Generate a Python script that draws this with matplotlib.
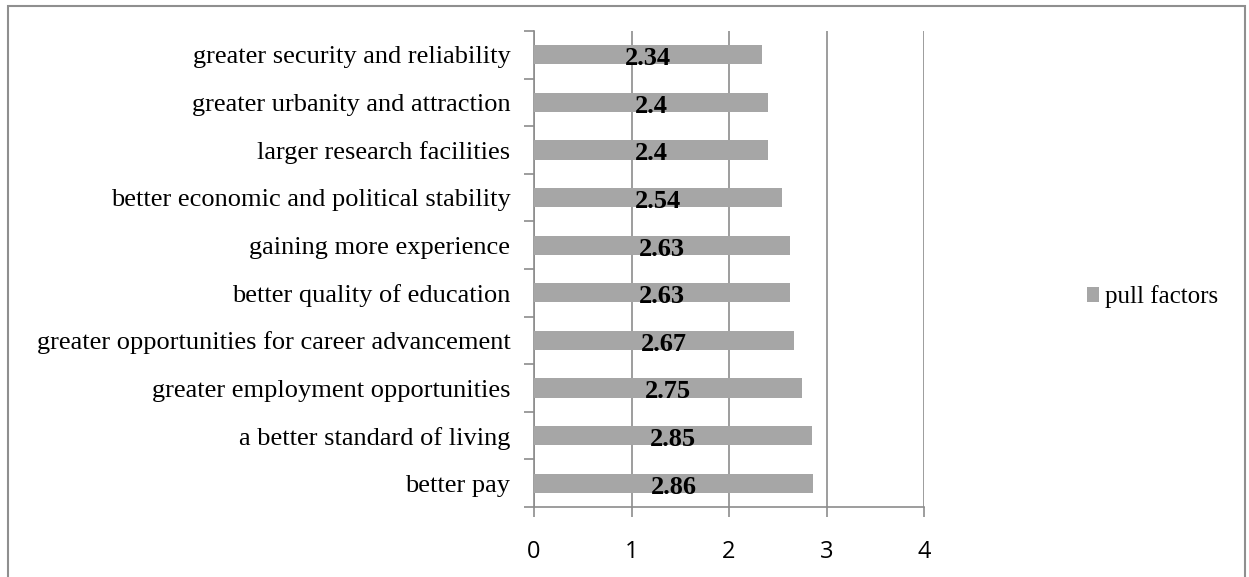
import matplotlib.pyplot as plt
from matplotlib.patches import Rectangle

factors = ['better pay', 'a better standard of living', 'greater employment opportunities',
           'greater opportunities for career advancement', 'better quality of education',
           'gaining more experience', 'better economic and political stability',
           'larger research facilities', 'greater urbanity and attraction',
           'greater security and reliability']
scores = [2.86, 2.85, 2.75, 2.67, 2.63, 2.63, 2.54, 2.4, 2.4, 2.34]
labels = ['2.86', '2.85', '2.75', '2.67', '2.63', '2.63', '2.54', '2.4', '2.4', '2.34']

W, H = 1249, 577
fig = plt.figure(figsize=(W / 100, H / 100), dpi=100)
ax = fig.add_axes([534 / W, 1 - 507 / H, 390 / W, 476 / H])

grey = '#8c8c8c'
pos = list(range(len(factors)))
ax.barh(pos, scores, height=0.4, color='#a6a6a6', label='pull factors', zorder=3)
for y, v, t in zip(pos, scores, labels):
    ax.text(v / 2, y - 0.08, t, ha='center', va='center', fontsize=19,
            fontweight='bold', family='Liberation Serif', zorder=4)

ax.set_xlim(0, 4)
ax.set_ylim(-0.5, len(factors) - 0.5)
ax.set_xticks([0, 1, 2, 3, 4])
ax.set_xticklabels(['0', '1', '2', '3', '4'], fontsize=17, family='Open Sans')
ax.set_yticks(pos)
ax.set_yticklabels(factors, fontsize=19, family='Liberation Serif')
ax.set_yticks([p + 0.5 for p in range(-1, len(factors))], minor=True)
ax.tick_params(axis='y', which='major', length=0, pad=17)
ax.tick_params(axis='y', which='minor', length=7, color=grey, width=1.2, direction='out')
ax.tick_params(axis='x', length=7, color=grey, width=1.2, pad=17)
ax.xaxis.grid(True, color=grey, linewidth=1.2, zorder=0)
for s in ['top', 'right']:
    ax.spines[s].set_visible(False)
for s in ['left', 'bottom']:
    ax.spines[s].set_color(grey)
    ax.spines[s].set_linewidth(1.2)

ax.legend(loc='center left', bbox_to_anchor=(1064 / W, 1 - 297 / H),
          bbox_transform=fig.transFigure, frameon=False, handlelength=0.5,
          handleheight=0.5, handletextpad=0.25,
          prop={'family': 'Liberation Serif', 'size': 18})

# chart border
fig.patches.append(Rectangle((8 / W, -0.05), (1245 - 8) / W, 1.05 - 6 / H,
                             transform=fig.transFigure, fill=False,
                             edgecolor='#8f8f8f', linewidth=1.5))

fig.savefig('out.png', dpi=100)
